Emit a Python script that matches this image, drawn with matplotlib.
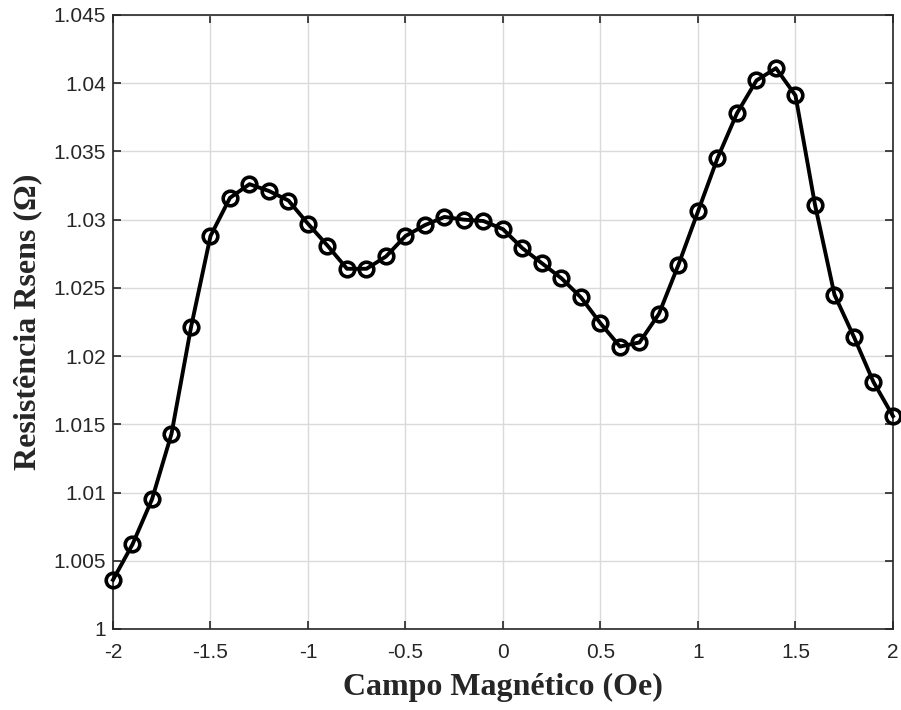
import numpy as np
import matplotlib.pyplot as plt

# campo aplicado (Oe) e resistência medida no sensor (ohm)
campo = np.round(np.arange(-2.0, 2.01, 0.1), 1)
resistencia = [
    1.0036, 1.0062, 1.0095, 1.0143, 1.0221, 1.0288, 1.0316, 1.0326, 1.0321, 1.0314,
    1.0297, 1.0281, 1.0264, 1.0264, 1.0273, 1.0288, 1.0296, 1.0302, 1.0300, 1.0299,
    1.0293, 1.0279, 1.0268, 1.0257, 1.0243, 1.0224, 1.0207, 1.0210, 1.0231, 1.0267,
    1.0306, 1.0345, 1.0378, 1.0402, 1.0411, 1.0391, 1.0311, 1.0245, 1.0214, 1.0181,
    1.0156,
]
xticks = [-2, -1.5, -1, -0.5, 0, 0.5, 1, 1.5, 2]
yticks = [1, 1.005, 1.01, 1.015, 1.02, 1.025, 1.03, 1.035, 1.04, 1.045]
ytick_labels = ['1', '1.005', '1.01', '1.015', '1.02', '1.025', '1.03', '1.035', '1.04', '1.045']

fig = plt.figure(figsize=(9.01, 7.10), dpi=100)
ax = fig.add_axes([0.1254, 0.1141, 0.8657, 0.8648])

ax.plot(campo, resistencia, color='black', linewidth=2.8, marker='o',
        markersize=10.5, markerfacecolor='none', markeredgewidth=2.6,
        markeredgecolor='black', clip_on=False, zorder=3)

ax.set_xlim(-2, 2)
ax.set_ylim(1, 1.045)
ax.set_xticks(xticks)
ax.set_xticklabels(['-2', '-1.5', '-1', '-0.5', '0', '0.5', '1', '1.5', '2'])
ax.set_yticks(yticks)
ax.set_yticklabels(ytick_labels)

ax.grid(True, color='#dadada', linewidth=1.0)
ax.set_axisbelow(True)
ax.tick_params(direction='in', length=6, width=1.2, top=True, right=True,
               labelsize=15, colors='#262626')
ax.tick_params(axis='x', pad=10)
ax.tick_params(axis='y', pad=5)
for lbl in ax.get_xticklabels() + ax.get_yticklabels():
    lbl.set_fontfamily('Liberation Sans')
    lbl.set_color('#262626')
for sp in ax.spines.values():
    sp.set_color('#262626')
    sp.set_linewidth(1.2)

ax.set_xlabel('Campo Magnético (Oe)', fontsize=23, fontweight='bold',
              family='Liberation Serif', color='#262626', labelpad=8)
ax.set_ylabel('Resistência Rsens (Ω)', fontsize=23, fontweight='bold',
              family='Liberation Serif', color='#262626', labelpad=8)

fig.savefig('out.png', dpi=100)
